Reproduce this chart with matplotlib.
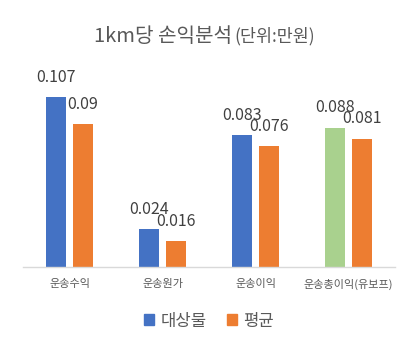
import numpy as np
import matplotlib
matplotlib.use("Agg")
import matplotlib.pyplot as plt
from matplotlib.patches import Patch

plt.rcParams['font.family'] = ['Noto Sans CJK KR', 'DejaVu Sans']

# data
categories = ['운송수익', '운송원가', '운송이익', '운송총이익(유보프)']
target = [0.107, 0.024, 0.083, 0.088]
average = [0.09, 0.016, 0.076, 0.081]
target_labels = ['0.107', '0.024', '0.083', '0.088']
average_labels = ['0.09', '0.016', '0.076', '0.081']

blue = '#4472c4'
orange = '#ed7d31'
green = '#a9d18e'
gray = '#595959'

fig = plt.figure(figsize=(4.18, 3.51), dpi=100)
ax = fig.add_axes([0.055, 0.240, 0.89, 0.541])

x = np.arange(len(categories))
w = 0.215
off = 0.145
target_colors = [blue, blue, blue, green]
b1 = ax.bar(x - off, target, w, color=target_colors)
b2 = ax.bar(x + off, average, w, color=orange)

for bars, labels in ((b1, target_labels), (b2, average_labels)):
    for rect, lab in zip(bars, labels):
        ax.annotate(lab, (rect.get_x() + rect.get_width() / 2, rect.get_height()),
                    xytext=(0, 8), textcoords='offset points', ha='center', va='bottom',
                    fontsize=11.5, color='#404040')

ax.set_xlim(-0.5, 3.5)
ax.set_ylim(0, 0.12)
ax.set_yticks([])
ax.set_xticks(x)
ax.set_xticklabels(categories, fontsize=8, color=gray)
ax.tick_params(axis='x', length=0, pad=9)
for s in ['top', 'right', 'left']:
    ax.spines[s].set_visible(False)
ax.spines['bottom'].set_color('#d9d9d9')
ax.spines['bottom'].set_linewidth(1.0)

# title in two sizes
fig.text(0.555, 0.881, '1km당 손익분석', ha='right', va='baseline', fontsize=14.5, color=gray)
fig.text(0.561, 0.881, '(단위:만원)', ha='left', va='baseline', fontsize=12.5, color=gray)

handles = [Patch(color=blue, label='대상물'), Patch(color=orange, label='평균')]
fig.legend(handles=handles, loc='center', bbox_to_anchor=(0.5, 0.085), ncol=2, frameon=False,
           fontsize=12, handlelength=0.6, handleheight=0.6, handletextpad=0.4,
           columnspacing=1.2, labelcolor=gray)

fig.savefig('out.png', dpi=100)
